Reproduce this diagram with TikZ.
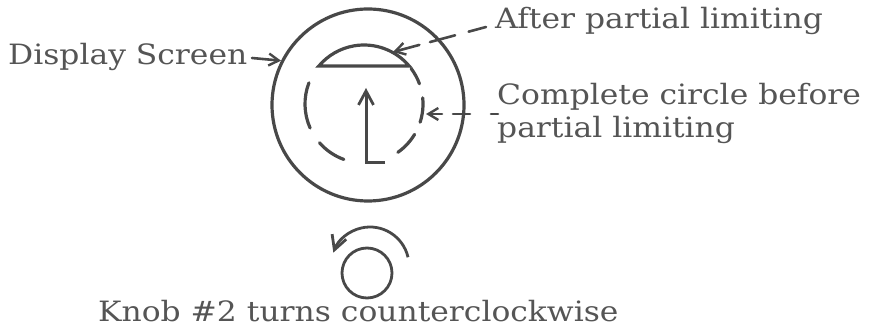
\documentclass[tikz,border=0pt]{standalone}
\usepackage{fontspec}
\setmainfont[FakeStretch=1.12]{DejaVu Serif}
\usetikzlibrary{arrows.meta}
\definecolor{ink}{RGB}{72,72,72}
\definecolor{txt}{RGB}{85,85,85}
\begin{document}
\begin{tikzpicture}[x=1pt,y=1pt,
  lbl/.style={anchor=base west,inner sep=0pt,text=txt,font=\fontsize{28}{32}\selectfont},
  thick line/.style={draw=ink,line width=3pt},
  barb/.style={-{Straight Barb[length=10pt,width=12pt,line width=2.4pt]}},
  bigbarb/.style={-{Straight Barb[length=14pt,width=15pt,line width=2.8pt]}},
  leader/.style={draw=ink,line width=2.6pt,line cap=round}]
\useasboundingbox (0,0) rectangle (872,-328);
% outer display screen
\node[circle,draw=ink,line width=3.2pt,minimum size=192pt,inner sep=0pt] (screen) at (368,-105) {};
% dashed circle (drawn as individual arcs) and solid segment
\coordinate (dc) at (364,-104);
\begin{scope}[draw=ink,line width=3.2pt,line cap=round]
  \draw ([shift={(40:59)}]dc) arc (40:140:59) -- cycle;
  \draw ([shift={(159:59)}]dc) arc (159:204:59);
  \draw ([shift={(221:59)}]dc) arc (221:250:59);
  \draw ([shift={(305:59)}]dc) arc (305:329:59);
  \draw ([shift={(-18:59)}]dc) arc (-18:6:59);
  \draw ([shift={(20:59)}]dc) arc (20:37:59);
\end{scope}
% centre arrow
\coordinate (foot) at (385,-163);
\coordinate (base) at (366,-163);
\coordinate (tip) at (366,-88);
\draw[thick line,bigbarb] (foot) -- (base) -- (tip);
% labels
\node[lbl] (ds) at (8,-65) {Display Screen};
\node[lbl] (apl) at (495,-29) {After partial limiting};
\node[lbl] (cc1) at (497,-105) {Complete circle before};
\node[lbl] (cc2) at (497,-138) {partial limiting};
\node[lbl] (knobtxt) at (98,-322) {Knob \#2 turns counterclockwise};
% leaders
\coordinate (dsS) at (252,-58);
\draw[leader,barb] (dsS) -- (screen.153);
\coordinate (aS) at (486,-27);
\coordinate (aT) at (393,-52);
\draw[leader,barb,dash pattern=on 18pt off 14pt on 26pt off 11pt on 40pt] (aS) -- (aT);
\coordinate (cS) at (498,-114);
\coordinate (cT) at (426,-114);
\draw[leader,barb,dash pattern=on 7pt off 21pt on 17pt off 11pt on 30pt] (cS) -- (cT);
% knob
\node[circle,draw=ink,line width=2.8pt,minimum size=50pt,inner sep=0pt] (knob) at (367,-273) {};
\coordinate (kc) at (370,-266);
\draw[draw=ink,line width=2.8pt,bigbarb] ([shift={(13:39)}]kc) arc (13:160:39);
\end{tikzpicture}
\end{document}
